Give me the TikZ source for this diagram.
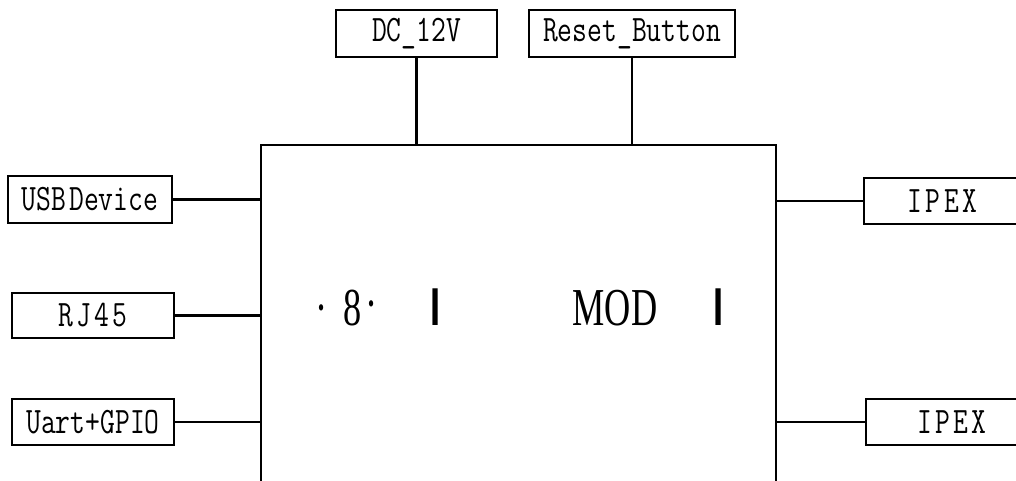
\documentclass[tikz,border=0pt]{standalone}
\usepackage{fontspec}
\usepackage{graphicx}
\newfontfamily\cserif{Liberation Serif}
\newfontfamily\csans{Liberation Sans}
\newcommand\lblfont{\fontsize{28}{28}\selectfont\ttfamily}
\newcommand\boxtxt[1]{\scalebox{0.77}[1]{#1}}
\newcommand\midtxt[1]{\scalebox{0.68}[1]{#1}}
\newcommand\gap{\hspace{0.12em}}
\tikzset{
  blk/.style={draw, line width=1.8pt, inner sep=0pt, font=\lblfont},
  conn/.style={line width=1.8pt},
  big/.style={inner sep=0pt, anchor=base, font=\fontsize{40}{40}\selectfont\cserif},
  bar/.style={inner sep=0pt, anchor=base, font=\fontsize{40}{40}\selectfont\csans\bfseries},
}
\begin{document}
\begin{tikzpicture}[x=0.75pt,y=-0.75pt]
\useasboundingbox (0,0) rectangle (1016,480);
\clip (0,0) rectangle (1016,480);
% main module
\node[draw, line width=1.8pt, inner sep=0pt, minimum width=386.25pt, minimum height=266.25pt] (main) at (518.5,322.5) {};
% top
\node[blk, minimum width=120.75pt, minimum height=35.25pt] (dc) at (416.5,33.5) {\boxtxt{DC\_12V}};
\node[blk, minimum width=154.5pt, minimum height=35.25pt] (rst) at (632,33.5) {\boxtxt{Reset\_Button}};
% left
\node[blk, minimum width=123pt, minimum height=35.25pt] (usb) at (90,199.5) {\boxtxt{USB\hspace{0.1em}Device}};
\node[blk, minimum width=121.5pt, minimum height=33.75pt] (rj) at (93,315.5) {\boxtxt{R\gap J\gap 4\gap 5}};
\node[blk, minimum width=121.5pt, minimum height=34.5pt] (uart) at (93,422) {\boxtxt{Uart+GPIO}};
% right
\node[blk, minimum width=117.75pt, minimum height=34.5pt] (ipexa) at (942.5,201) {\boxtxt{I\gap P\gap E\gap X}};
\node[blk, minimum width=129pt, minimum height=34.5pt] (ipexb) at (952,422) {\boxtxt{I\gap P\gap E\gap X}};
% connectors
\draw[conn] (dc.south) -- (dc.south |- main.north);
\draw[conn] (rst.south) -- (rst.south |- main.north);
\draw[conn] (usb.east) -- (usb.east -| main.west);
\draw[conn] (rj.east) -- (rj.east -| main.west);
\draw[conn] (uart.east) -- (uart.east -| main.west);
\draw[conn] (ipexa.west) -- (ipexa.west -| main.east);
\draw[conn] (ipexb.west) -- (ipexb.west -| main.east);
% centre text
\node[big] (d1) at (322,325) {\midtxt{·}};
\node[big] (n8) at (353,325) {\midtxt{8}};
\node[big] (d2) at (372,321) {\midtxt{·}};
\node[bar] (i1) at (436,325) {\midtxt{I}};
\node[big] (mod) at (615,325) {\midtxt{MOD}};
\node[bar] (i2) at (719,325) {\midtxt{I}};
\end{tikzpicture}
\end{document}
